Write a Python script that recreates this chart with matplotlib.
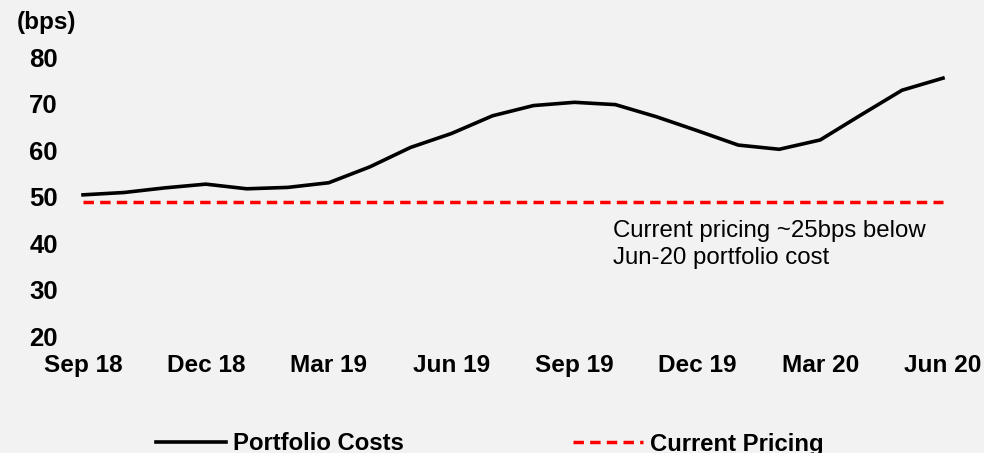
import matplotlib.pyplot as plt

# Monthly portfolio cost (bps), Sep 18 .. Jun 20
months = ['Sep 18', 'Oct 18', 'Nov 18', 'Dec 18', 'Jan 19', 'Feb 19', 'Mar 19', 'Apr 19',
          'May 19', 'Jun 19', 'Jul 19', 'Aug 19', 'Sep 19', 'Oct 19', 'Nov 19', 'Dec 19',
          'Jan 20', 'Feb 20', 'Mar 20', 'Apr 20', 'May 20', 'Jun 20']
portfolio_costs = [50.4, 50.9, 51.9, 52.7, 51.7, 52.0, 53.0, 56.4, 60.6, 63.6, 67.4,
                   69.6, 70.3, 69.8, 67.2, 64.2, 61.1, 60.2, 62.2, 67.6, 72.9, 75.5]
current_pricing = [48.9] * len(months)
tick_labels = ['Sep 18', 'Dec 18', 'Mar 19', 'Jun 19', 'Sep 19', 'Dec 19', 'Mar 20', 'Jun 20']
y_ticks = [20, 30, 40, 50, 60, 70, 80]

plt.rcParams['font.family'] = ['Liberation Sans', 'DejaVu Sans']
bg = '#f2f2f2'

fig = plt.figure(figsize=(9.84, 4.53), dpi=100, facecolor=bg)
W, H = 984, 453
ax = fig.add_axes([83 / W, 1 - 336.2 / H, (943 - 83) / W, (336.2 - 57.2) / H])
ax.set_facecolor(bg)

x = list(range(len(months)))
ax.plot(x, portfolio_costs, color='black', lw=2.6, solid_joinstyle='miter',
        label='Portfolio Costs', clip_on=False)
ax.plot(x, current_pricing, color='#ff0000', lw=2.5, dashes=(3.0, 1.8),
        label='Current Pricing', clip_on=False)

ax.set_xlim(0, len(months) - 1)
ax.set_ylim(20, 80)
ax.set_xticks([months.index(t) for t in tick_labels])
ax.set_xticklabels(tick_labels, fontsize=17.6, fontweight='bold')
ax.set_yticks(y_ticks)
ax.set_yticklabels([str(v) for v in y_ticks], fontsize=18.5, fontweight='bold')
ax.tick_params(axis='x', length=0, pad=13)
ax.tick_params(axis='y', length=0, pad=18)
for s in ax.spines.values():
    s.set_visible(False)

fig.text(17 / W, 1 - 22 / H, '(bps)', fontsize=17.5, fontweight='bold', va='center', ha='left')

fig.text(613 / W, 1 - 220 / H, 'Current pricing ~25bps below\nJun-20 portfolio cost',
         fontsize=17.3, va='top', ha='left', linespacing=1.3)

fig.legend(loc='center', bbox_to_anchor=(490 / W, 1 - 444 / H), ncol=2, frameon=False,
           prop={'size': 17.2, 'weight': 'bold'}, handlelength=2.93, handletextpad=0.3,
           columnspacing=7.07)

fig.savefig('out.png', dpi=100, facecolor=bg)
